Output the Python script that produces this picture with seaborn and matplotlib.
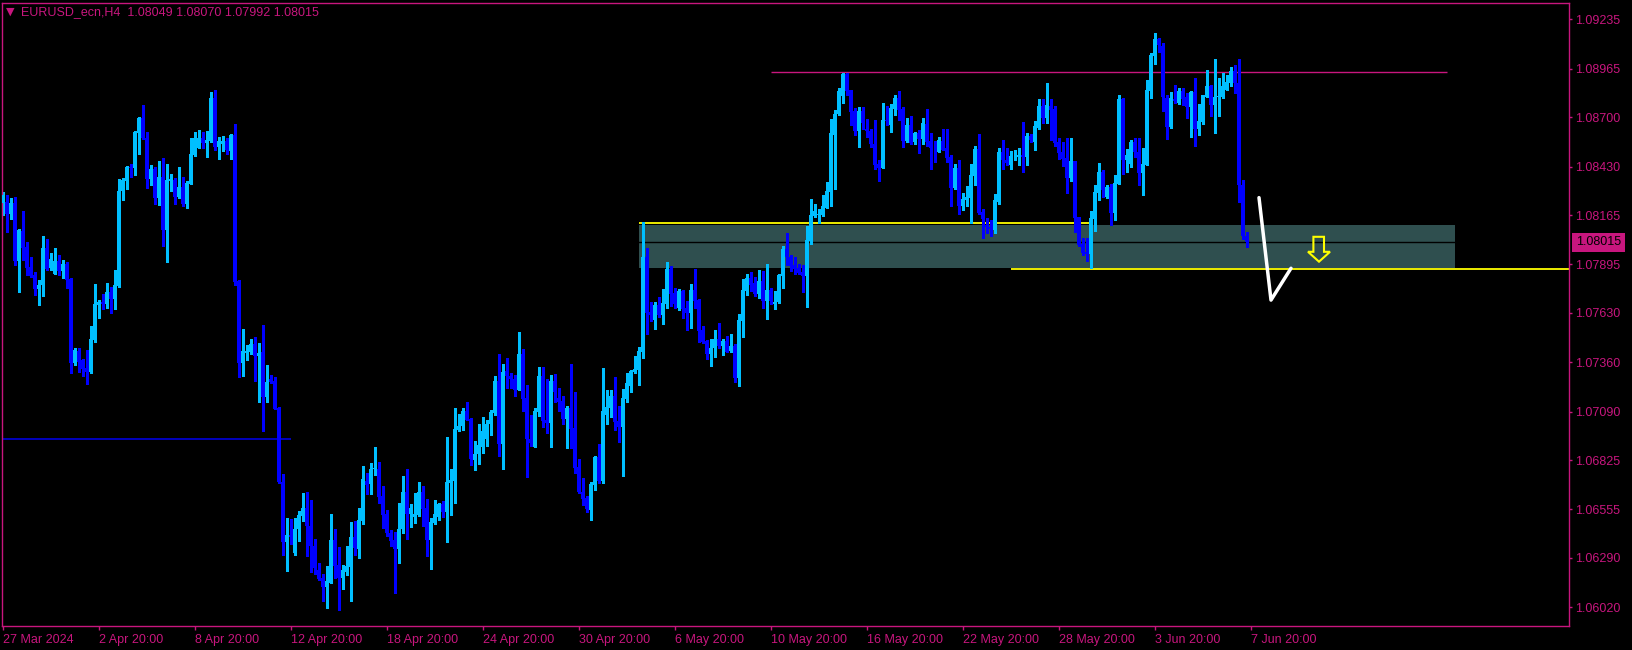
import numpy as np
import pandas as pd
import matplotlib
matplotlib.use("Agg")
import matplotlib.pyplot as plt
import seaborn as sns
from matplotlib.patches import Polygon
from matplotlib.transforms import blended_transform_factory

# EURUSD H4 candles
opens = [
    1.08229, 1.08234, 1.08170, 1.08231, 1.07915, 1.08078, 1.07988, 1.07879, 1.07837, 1.07762,
    1.07782, 1.07983, 1.07873, 1.07844, 1.07913, 1.07861, 1.07897, 1.07815, 1.07357, 1.07423,
    1.07372, 1.07326, 1.07308, 1.07481, 1.07673, 1.07687, 1.07678, 1.07744, 1.07707, 1.07777,
    1.08296, 1.08353, 1.08429, 1.08424, 1.08615, 1.08696, 1.08584, 1.08364, 1.08417, 1.08260,
    1.08373, 1.08083, 1.08351, 1.08356, 1.08263, 1.08318, 1.08225, 1.08335, 1.08493, 1.08533,
    1.08584, 1.08561, 1.08570, 1.08805, 1.08539, 1.08553, 1.08570, 1.08517, 1.08603, 1.07804,
    1.07357, 1.07412, 1.07418, 1.07460, 1.07396,
    1.07417, 1.07171, 1.07268, 1.07257, 1.07111, 1.06703, 1.06378, 1.06415, 1.06315, 1.06448,
    1.06521, 1.06561, 1.06466, 1.06356, 1.06223, 1.06183, 1.06132, 1.06154, 1.06387, 1.06251,
    1.06181, 1.06214, 1.06242, 1.06402, 1.06340, 1.06493, 1.06710, 1.06696, 1.06776, 1.06779,
    1.06628, 1.06530, 1.06429, 1.06387, 1.06338, 1.06448, 1.06648, 1.06530, 1.06515, 1.06524,
    1.06648, 1.06561, 1.06387, 1.06482, 1.06513, 1.06584, 1.06542, 1.06701, 1.06710, 1.06989,
    1.07011, 1.07093, 1.07049, 1.06825, 1.06858, 1.06898, 1.06940, 1.07022, 1.07084, 1.07257,
    1.06912, 1.07310, 1.07284, 1.07268, 1.07208,
    1.07405, 1.07162, 1.06938, 1.06898, 1.07089, 1.07284, 1.07044, 1.07029, 1.07257, 1.07162,
    1.07148, 1.07049, 1.07109, 1.07000, 1.06785, 1.06648, 1.06619, 1.06552, 1.06688, 1.06840,
    1.06710, 1.07071, 1.07111, 1.07175, 1.07038, 1.07007, 1.07159, 1.07232, 1.07308, 1.07317,
    1.07418, 1.07937, 1.07636, 1.07591, 1.07673, 1.07618, 1.07676, 1.07870, 1.07737, 1.07655,
    1.07749, 1.07658, 1.07627, 1.07755, 1.07700, 1.07536, 1.07476, 1.07405, 1.07436, 1.07485,
    1.07449, 1.07476, 1.07421, 1.07449, 1.07275, 1.07587, 1.07751, 1.07819, 1.07791, 1.07733,
    1.07804, 1.07695, 1.07755, 1.07678,
    1.07690, 1.07833, 1.07978, 1.07936, 1.07891, 1.07876, 1.07853, 1.07833, 1.08022, 1.08161,
    1.08164, 1.08164, 1.08206, 1.08292, 1.08602, 1.08717, 1.08817, 1.08935, 1.08848, 1.08733,
    1.08624, 1.08733, 1.08638, 1.08624, 1.08556, 1.08443, 1.08423, 1.08684, 1.08657, 1.08744,
    1.08806, 1.08744, 1.08569, 1.08657, 1.08565, 1.08615, 1.08580, 1.08662, 1.08569, 1.08534,
    1.08511, 1.08569, 1.08529, 1.08480, 1.08314, 1.08423, 1.08215, 1.08246, 1.08259, 1.08379,
    1.08525, 1.08183, 1.08113, 1.08100, 1.08082, 1.08234, 1.08511, 1.08465, 1.08441, 1.08480,
    1.08480, 1.08492, 1.08483, 1.08596, 1.08565,
    1.08640, 1.08759, 1.08698, 1.08759, 1.08744, 1.08567, 1.08509, 1.08476, 1.08367, 1.08458,
    1.08153, 1.08008, 1.07962, 1.07951, 1.08144, 1.08285, 1.08399, 1.08263, 1.08317, 1.08175,
    1.08336, 1.08799, 1.08467, 1.08443, 1.08564, 1.08512, 1.08394, 1.08440, 1.08844, 1.09032,
    1.09127, 1.09090, 1.08804, 1.08644, 1.08801, 1.08777, 1.08841, 1.08808, 1.08755, 1.08837,
    1.08636, 1.08673, 1.08813, 1.08868, 1.08768, 1.08811, 1.08810, 1.08850, 1.08886, 1.08950,
    1.08886, 1.08327, 1.08049,
]
highs = [
    1.08289, 1.08274, 1.08256, 1.08262, 1.08088, 1.08187, 1.08016, 1.07937, 1.07855, 1.07810,
    1.08050, 1.08034, 1.07959, 1.07985, 1.07946, 1.07919, 1.07910, 1.07822, 1.07436, 1.07436,
    1.07377, 1.07427, 1.07558, 1.07788, 1.07700, 1.07731, 1.07793, 1.07769, 1.07864, 1.08362,
    1.08366, 1.08435, 1.08444, 1.08624, 1.08703, 1.08767, 1.08621, 1.08438, 1.08429, 1.08460,
    1.08477, 1.08444, 1.08389, 1.08366, 1.08426, 1.08371, 1.08351, 1.08584, 1.08619, 1.08630,
    1.08617, 1.08624, 1.08840, 1.08849, 1.08593, 1.08599, 1.08584, 1.08606, 1.08661, 1.07810,
    1.07542, 1.07454, 1.07487, 1.07496, 1.07467,
    1.07563, 1.07345, 1.07288, 1.07277, 1.07117, 1.06748, 1.06506, 1.06502, 1.06511, 1.06548,
    1.06646, 1.06652, 1.06606, 1.06393, 1.06260, 1.06201, 1.06247, 1.06533, 1.06448, 1.06351,
    1.06251, 1.06355, 1.06488, 1.06493, 1.06561, 1.06792, 1.06756, 1.06807, 1.06896, 1.06814,
    1.06683, 1.06552, 1.06442, 1.06433, 1.06588, 1.06737, 1.06774, 1.06584, 1.06643, 1.06703,
    1.06685, 1.06615, 1.06506, 1.06606, 1.06593, 1.06603, 1.06949, 1.06774, 1.07111, 1.07077,
    1.07108, 1.07144, 1.07058, 1.06931, 1.07022, 1.07062, 1.07044, 1.07098, 1.07284, 1.07405,
    1.07348, 1.07386, 1.07299, 1.07290, 1.07523,
    1.07432, 1.07235, 1.07071, 1.07108, 1.07332, 1.07332, 1.07266, 1.07290, 1.07295, 1.07217,
    1.07175, 1.07122, 1.07350, 1.07195, 1.06831, 1.06725, 1.06630, 1.06707, 1.06847, 1.06913,
    1.07326, 1.07208, 1.07208, 1.07277, 1.07120, 1.07212, 1.07303, 1.07317, 1.07394, 1.07445,
    1.08129, 1.07986, 1.07691, 1.07691, 1.07715, 1.07760, 1.07910, 1.07886, 1.07764, 1.07760,
    1.07755, 1.07696, 1.07788, 1.07870, 1.07707, 1.07558, 1.07481, 1.07485, 1.07536, 1.07572,
    1.07485, 1.07503, 1.07514, 1.07459, 1.07624, 1.07815, 1.07842, 1.07855, 1.07824, 1.07864,
    1.07859, 1.07897, 1.07764, 1.07749,
    1.07845, 1.07995, 1.08068, 1.07946, 1.07936, 1.07896, 1.07891, 1.08104, 1.08252, 1.08228,
    1.08197, 1.08274, 1.08347, 1.08689, 1.08742, 1.08857, 1.08943, 1.08939, 1.08848, 1.08748,
    1.08753, 1.08753, 1.08688, 1.08638, 1.08684, 1.08465, 1.08780, 1.08762, 1.08771, 1.08821,
    1.08842, 1.08757, 1.08693, 1.08706, 1.08620, 1.08629, 1.08693, 1.08744, 1.08616, 1.08571,
    1.08593, 1.08635, 1.08635, 1.08496, 1.08443, 1.08465, 1.08283, 1.08325, 1.08443, 1.08542,
    1.08607, 1.08197, 1.08150, 1.08137, 1.08279, 1.08534, 1.08574, 1.08529, 1.08514, 1.08520,
    1.08534, 1.08675, 1.08616, 1.08607, 1.08678,
    1.08799, 1.08799, 1.08886, 1.08799, 1.08759, 1.08585, 1.08567, 1.08585, 1.08585, 1.08463,
    1.08157, 1.08039, 1.08042, 1.08188, 1.08327, 1.08449, 1.08412, 1.08330, 1.08336, 1.08385,
    1.08822, 1.08804, 1.08527, 1.08573, 1.08585, 1.08585, 1.08531, 1.08904, 1.09050, 1.09160,
    1.09132, 1.09105, 1.08822, 1.08837, 1.08877, 1.08859, 1.08859, 1.08832, 1.08841, 1.08917,
    1.08771, 1.08822, 1.08959, 1.08877, 1.09017, 1.08914, 1.08941, 1.08932, 1.08977, 1.08983,
    1.09017, 1.08358, 1.08070,
]
lows = [
    1.08165, 1.08074, 1.08143, 1.07892, 1.07746, 1.07919, 1.07837, 1.07828, 1.07728, 1.07673,
    1.07724, 1.07864, 1.07864, 1.07842, 1.07837, 1.07822, 1.07764, 1.07303, 1.07345, 1.07305,
    1.07286, 1.07241, 1.07303, 1.07472, 1.07600, 1.07651, 1.07655, 1.07631, 1.07649, 1.07773,
    1.08247, 1.08307, 1.08375, 1.08384, 1.08499, 1.08579, 1.08315, 1.08329, 1.08225, 1.08220,
    1.07995, 1.07910, 1.08296, 1.08225, 1.08260, 1.08214, 1.08205, 1.08335, 1.08488, 1.08530,
    1.08533, 1.08484, 1.08562, 1.08521, 1.08471, 1.08517, 1.08499, 1.08471, 1.07782, 1.07281,
    1.07286, 1.07372, 1.07407, 1.07259, 1.07141,
    1.06984, 1.07144, 1.07244, 1.07102, 1.06701, 1.06305, 1.06220, 1.06369, 1.06305, 1.06384,
    1.06493, 1.06300, 1.06214, 1.06201, 1.06169, 1.06056, 1.06019, 1.06154, 1.06183, 1.06008,
    1.06123, 1.06196, 1.06056, 1.06305, 1.06291, 1.06473, 1.06639, 1.06639, 1.06743, 1.06593,
    1.06455, 1.06411, 1.06355, 1.06099, 1.06263, 1.06424, 1.06393, 1.06460, 1.06479, 1.06519,
    1.06466, 1.06300, 1.06229, 1.06475, 1.06497, 1.06515, 1.06378, 1.06524, 1.06593, 1.06985,
    1.06989, 1.07044, 1.06798, 1.06770, 1.06803, 1.06865, 1.06903, 1.06962, 1.07071, 1.06847,
    1.06776, 1.07222, 1.07221, 1.07175, 1.07208,
    1.07095, 1.06734, 1.06902, 1.06898, 1.07068, 1.07004, 1.06971, 1.06898, 1.07144, 1.07093,
    1.07020, 1.06893, 1.06889, 1.06756, 1.06643, 1.06579, 1.06542, 1.06497, 1.06661, 1.06701,
    1.06701, 1.07022, 1.07062, 1.06989, 1.06925, 1.06738, 1.07144, 1.07199, 1.07303, 1.07235,
    1.07385, 1.07512, 1.07587, 1.07541, 1.07609, 1.07569, 1.07658, 1.07667, 1.07655, 1.07645,
    1.07603, 1.07536, 1.07545, 1.07655, 1.07472, 1.07467, 1.07376, 1.07339, 1.07390, 1.07436,
    1.07399, 1.07414, 1.07416, 1.07253, 1.07230, 1.07500, 1.07727, 1.07749, 1.07722, 1.07709,
    1.07658, 1.07596, 1.07678, 1.07651,
    1.07685, 1.07767, 1.07891, 1.07860, 1.07845, 1.07845, 1.07745, 1.07663, 1.08004, 1.08152,
    1.08119, 1.08159, 1.08201, 1.08215, 1.08306, 1.08711, 1.08775, 1.08824, 1.08657, 1.08602,
    1.08538, 1.08638, 1.08593, 1.08538, 1.08414, 1.08352, 1.08420, 1.08657, 1.08620, 1.08711,
    1.08684, 1.08538, 1.08565, 1.08556, 1.08556, 1.08505, 1.08556, 1.08542, 1.08416, 1.08456,
    1.08507, 1.08520, 1.08456, 1.08215, 1.08306, 1.08168, 1.08192, 1.08215, 1.08119, 1.08328,
    1.08173, 1.08040, 1.08068, 1.08051, 1.08068, 1.08228, 1.08414, 1.08441, 1.08414, 1.08465,
    1.08441, 1.08401, 1.08441, 1.08565, 1.08523,
    1.08635, 1.08667, 1.08667, 1.08576, 1.08545, 1.08471, 1.08434, 1.08285, 1.08352, 1.08071,
    1.07997, 1.07947, 1.07916, 1.07878, 1.08079, 1.08248, 1.08266, 1.08257, 1.08108, 1.08139,
    1.08336, 1.08390, 1.08403, 1.08430, 1.08485, 1.08330, 1.08275, 1.08440, 1.08804, 1.08992,
    1.09059, 1.08735, 1.08580, 1.08640, 1.08777, 1.08771, 1.08768, 1.08698, 1.08593, 1.08540,
    1.08600, 1.08662, 1.08808, 1.08708, 1.08616, 1.08709, 1.08804, 1.08846, 1.08868, 1.08832,
    1.08235, 1.08033, 1.07992,
]
closes = [
    1.08274, 1.08170, 1.08231, 1.07915, 1.08083, 1.07986, 1.07877, 1.07833, 1.07762, 1.07782,
    1.07985, 1.07870, 1.07924, 1.07913, 1.07861, 1.07897, 1.07810, 1.07357, 1.07427, 1.07363,
    1.07323, 1.07308, 1.07487, 1.07678, 1.07689, 1.07678, 1.07744, 1.07707, 1.07782, 1.08296,
    1.08356, 1.08428, 1.08424, 1.08619, 1.08696, 1.08584, 1.08364, 1.08417, 1.08260, 1.08373,
    1.08083, 1.08356, 1.08362, 1.08265, 1.08318, 1.08225, 1.08340, 1.08499, 1.08584, 1.08584,
    1.08561, 1.08575, 1.08805, 1.08539, 1.08570, 1.08570, 1.08521, 1.08603, 1.07800, 1.07357,
    1.07421, 1.07423, 1.07460, 1.07396, 1.07410,
    1.07171, 1.07253, 1.07253, 1.07104, 1.06706, 1.06378, 1.06415, 1.06402, 1.06451, 1.06524,
    1.06561, 1.06466, 1.06356, 1.06236, 1.06174, 1.06132, 1.06163, 1.06387, 1.06247, 1.06183,
    1.06223, 1.06245, 1.06402, 1.06347, 1.06497, 1.06721, 1.06688, 1.06779, 1.06783, 1.06621,
    1.06526, 1.06428, 1.06384, 1.06338, 1.06451, 1.06648, 1.06533, 1.06561, 1.06530, 1.06648,
    1.06559, 1.06387, 1.06486, 1.06533, 1.06584, 1.06542, 1.06703, 1.06716, 1.06994, 1.07011,
    1.07093, 1.07047, 1.06829, 1.06861, 1.06907, 1.06984, 1.07025, 1.07089, 1.07257, 1.06912,
    1.07306, 1.07284, 1.07268, 1.07211, 1.07405,
    1.07157, 1.06938, 1.06920, 1.07093, 1.07284, 1.07040, 1.07029, 1.07257, 1.07199, 1.07144,
    1.07049, 1.07108, 1.06995, 1.06783, 1.06652, 1.06610, 1.06555, 1.06694, 1.06843, 1.06710,
    1.07093, 1.07113, 1.07175, 1.07035, 1.07004, 1.07162, 1.07244, 1.07310, 1.07323, 1.07421,
    1.07937, 1.07631, 1.07618, 1.07673, 1.07618, 1.07682, 1.07870, 1.07733, 1.07678, 1.07749,
    1.07651, 1.07627, 1.07755, 1.07696, 1.07531, 1.07472, 1.07405, 1.07436, 1.07485, 1.07449,
    1.07476, 1.07418, 1.07449, 1.07275, 1.07591, 1.07755, 1.07819, 1.07782, 1.07733, 1.07804,
    1.07695, 1.07755, 1.07695, 1.07691,
    1.07836, 1.07978, 1.07933, 1.07887, 1.07869, 1.07849, 1.07833, 1.08028, 1.08164, 1.08186,
    1.08170, 1.08215, 1.08296, 1.08611, 1.08717, 1.08842, 1.08935, 1.08844, 1.08729, 1.08624,
    1.08733, 1.08666, 1.08624, 1.08553, 1.08438, 1.08423, 1.08684, 1.08678, 1.08748, 1.08806,
    1.08739, 1.08569, 1.08657, 1.08560, 1.08615, 1.08580, 1.08669, 1.08565, 1.08533, 1.08529,
    1.08574, 1.08523, 1.08478, 1.08314, 1.08423, 1.08215, 1.08252, 1.08265, 1.08383, 1.08525,
    1.08177, 1.08141, 1.08097, 1.08086, 1.08246, 1.08511, 1.08465, 1.08447, 1.08487, 1.08483,
    1.08492, 1.08480, 1.08596, 1.08574, 1.08653,
    1.08759, 1.08698, 1.08764, 1.08740, 1.08558, 1.08503, 1.08472, 1.08367, 1.08458, 1.08148,
    1.08002, 1.07956, 1.07951, 1.08148, 1.08290, 1.08399, 1.08303, 1.08317, 1.08175, 1.08339,
    1.08799, 1.08467, 1.08491, 1.08564, 1.08512, 1.08394, 1.08443, 1.08848, 1.09038, 1.09127,
    1.09092, 1.08808, 1.08644, 1.08804, 1.08786, 1.08844, 1.08801, 1.08753, 1.08837, 1.08636,
    1.08677, 1.08819, 1.08868, 1.08768, 1.08813, 1.08817, 1.08873, 1.08892, 1.08950, 1.08886,
    1.08327, 1.08048, 1.08015,
]

date_ticks = [0, 24, 48, 72, 96, 120, 144, 168, 192, 216, 240, 264, 288, 312]
date_labels = ["27 Mar 2024", "2 Apr 20:00", "8 Apr 20:00", "12 Apr 20:00", "18 Apr 20:00",
               "24 Apr 20:00", "30 Apr 20:00", "6 May 20:00", "10 May 20:00", "16 May 20:00",
               "22 May 20:00", "28 May 20:00", "3 Jun 20:00", "7 Jun 20:00"]
price_ticks = [1.06020, 1.06290, 1.06555, 1.06825, 1.07090, 1.07360, 1.07630,
               1.07895, 1.08165, 1.08430, 1.08700, 1.08965, 1.09235]

symbol = "EURUSD_ecn,H4"
last_ohlc = [1.08049, 1.08070, 1.07992, 1.08015]

# objects drawn on the chart (bar index, price)
zone_bars = [159, 363]
zone_prices = [1.07874, 1.08113]
zone_top_line = (1.08119, 159, 272)
zone_low_line = (1.07869, 252, 392)
resistance = (1.08945, 192, 361)
old_level = (1.06943, 0, 72)
path_bars = [314, 317, 322]
path_prices = [1.08260, 1.07700, 1.07874]
arrow_bar, arrow_top, arrow_neck, arrow_tip = 329, 1.08046, 1.07964, 1.07910

MAGENTA = "#C8167E"
BULL = "#00BFFF"
BEAR = "#0000FF"

sns.set_style("dark", {"axes.facecolor": "black", "figure.facecolor": "black"})
plt.rcParams["font.family"] = ["Liberation Sans", "DejaVu Sans"]

df = pd.DataFrame({"open": opens, "high": highs, "low": lows, "close": closes})
df["bar"] = np.arange(len(df))
df["up"] = df["close"] >= df["open"]
colors = np.where(df["up"], BULL, BEAR)

fig = plt.figure(figsize=(16.33, 6.5), dpi=100)
ax = fig.add_axes([2 / 1633, 24 / 650, 1567 / 1633, 623.3 / 650])
ax.set_facecolor("black")

ax.fill_between(zone_bars, zone_prices[0], zone_prices[1], color="#2F4F4F", linewidth=0, zorder=0.5)
ax.axhline(last_ohlc[3], color="black", linewidth=1, zorder=0.8)
ax.hlines(zone_top_line[0], zone_top_line[1], zone_top_line[2], color="yellow", linewidth=1.3, zorder=0.9)
ax.hlines(zone_low_line[0], zone_low_line[1], zone_low_line[2], color="yellow", linewidth=1.3, zorder=0.9)
ax.hlines(resistance[0], resistance[1], resistance[2], color=MAGENTA, linewidth=1, zorder=0.9)
ax.hlines(old_level[0], old_level[1], old_level[2], color="#0000DD", linewidth=1.2, zorder=0.9)

# candles: 1px wick, ~3px body
ax.vlines(df["bar"], df["low"], df["high"], colors=colors, linewidth=0.75, antialiased=False, zorder=2)
body = np.maximum((df["close"] - df["open"]).abs(), 0.00003)
ax.bar(df["bar"], body, bottom=np.minimum(df["open"], df["close"]), width=0.8,
       color=colors, linewidth=0, antialiased=False, zorder=3)

sns.lineplot(x=path_bars, y=path_prices, color="white", linewidth=2.5, sort=False, ax=ax, zorder=4)
arrow = Polygon([(arrow_bar - 1.4, arrow_top), (arrow_bar + 1.25, arrow_top), (arrow_bar + 1.25, arrow_neck),
                 (arrow_bar + 2.75, arrow_neck), (arrow_bar, arrow_tip), (arrow_bar - 2.75, arrow_neck),
                 (arrow_bar - 1.4, arrow_neck)], closed=True, facecolor="none", edgecolor="yellow",
                linewidth=1.5, zorder=4)
ax.add_patch(arrow)

ax.set_xlim(-0.25, 391.5)
ax.set_ylim(1.05918, 1.09326)
ax.grid(False)
for s in ax.spines.values():
    s.set_color(MAGENTA)
    s.set_linewidth(1)
    s.set_visible(True)

ax.yaxis.tick_right()
ax.set_yticks(price_ticks)
ax.set_yticklabels([f"{p:.5f}" for p in price_ticks])
ax.set_xticks(date_ticks)
ax.set_xticklabels(date_labels, ha="left")
ax.tick_params(axis="both", colors=MAGENTA, labelcolor=MAGENTA, labelsize=9, direction="out", width=1)
ax.tick_params(axis="x", length=3, pad=2.5, bottom=True)
ax.tick_params(axis="y", length=2, pad=2.2, right=True, left=False)
ax.set_xlabel("")
ax.set_ylabel("")

trans = blended_transform_factory(ax.transAxes, ax.transData)
ax.text(1.0045, last_ohlc[3], f"{last_ohlc[3]:.5f}", transform=trans, ha="left", va="center",
        fontsize=9, color="black", clip_on=False,
        bbox=dict(boxstyle="square,pad=0.3", facecolor=MAGENTA, edgecolor="none"))

fig.text(6 / 1633, 1 - 12 / 650, "\u25BC", color=MAGENTA, fontsize=8, va="center", ha="left",
         family=["DejaVu Sans"])
fig.text(21 / 1633, 1 - 12 / 650, symbol + "  " + " ".join(f"{v:.5f}" for v in last_ohlc),
         color=MAGENTA, fontsize=9, va="center", ha="left")

fig.savefig("out.png", dpi=100, facecolor="black")
